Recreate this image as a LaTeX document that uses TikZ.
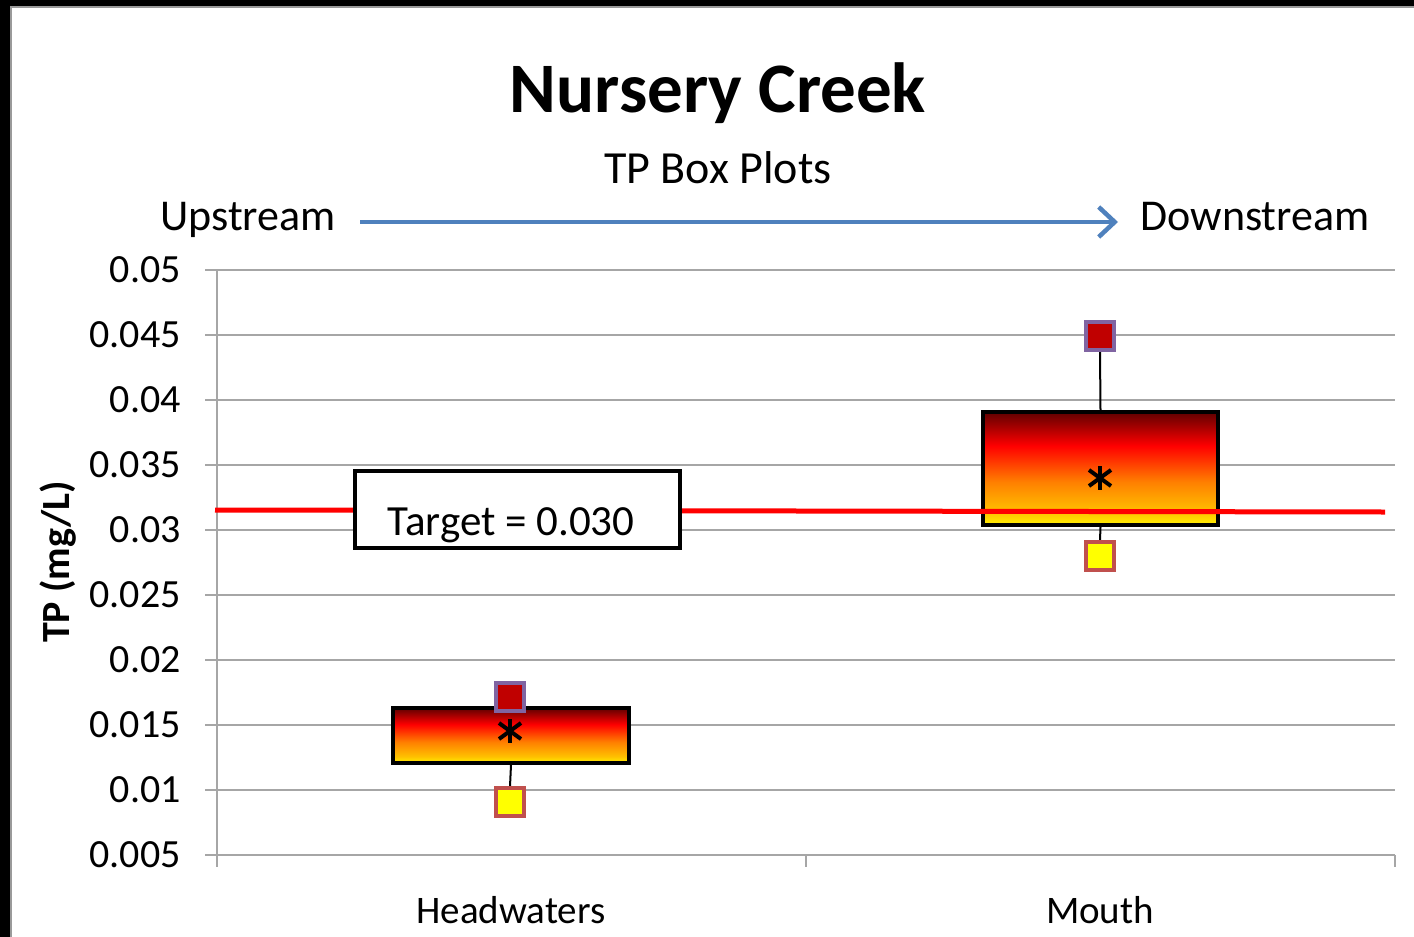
\documentclass[tikz,border=0pt]{standalone}
\usepackage{fontspec}
\setmainfont{Carlito}
\usetikzlibrary{arrows.meta}
\definecolor{arrowblue}{HTML}{4F81BD}
\definecolor{maxfill}{HTML}{C00000}
\definecolor{maxedge}{HTML}{8064A2}
\definecolor{minfill}{HTML}{FFFF00}
\definecolor{minedge}{HTML}{C0504D}
\definecolor{gridgray}{HTML}{A6A6A6}
\definecolor{frameedge}{HTML}{9A9A9A}
\definecolor{gY}{HTML}{FFF000}
\definecolor{gG}{HTML}{FFC000}
\definecolor{gO}{HTML}{FF8000}
\definecolor{gR}{HTML}{FF0000}
\definecolor{gD}{HTML}{600000}
\pgfdeclareverticalshading{boxgrad}{100bp}{color(0bp)=(gY); color(25bp)=(gY); color(31bp)=(gG); color(44bp)=(gO); color(60bp)=(gR); color(75bp)=(gD); color(100bp)=(gD)}
\tikzset{
  gridline/.style={gridgray, line width=1.8},
  ticklabel/.style={anchor=east, inner sep=0pt, font=\fontsize{40}{40}\selectfont},
  catlabel/.style={anchor=base, inner sep=0pt, font=\fontsize{39}{39}\selectfont},
  boxplot/.style={draw=black, line width=4, shading=boxgrad, inner sep=0pt},
  maxmark/.style={draw=maxedge, fill=maxfill, line width=3.5, minimum size=28, inner sep=0pt},
  minmark/.style={draw=minedge, fill=minfill, line width=3.5, minimum size=28, inner sep=0pt},
  whisker/.style={black, line width=2},
  meanstar/.style={black, line width=4},
  targetline/.style={red, line width=5},
}
\begin{document}
\begin{tikzpicture}[x=1pt,y=-1pt]
\useasboundingbox (0,0) rectangle (1414,937);
% frame
\fill[black] (0,0) rectangle (1414,937);
\fill[white] (10,6) rectangle (1414,937);
\draw[frameedge, line width=2] (11,937) -- (11,7) -- (1414,7);
% titles
\node[anchor=base, inner sep=0pt, font=\bfseries\fontsize{71}{71}\selectfont] (title) at (718,112) {Nursery Creek};
\node[anchor=base, inner sep=0pt, font=\fontsize{46}{46}\selectfont] (subtitle) at (718,183) {TP Box Plots};
\node[anchor=base, inner sep=0pt, font=\fontsize{44}{44}\selectfont] (up) at (248,230) {Upstream};
\node[anchor=base, inner sep=0pt, font=\fontsize{44}{44}\selectfont] (down) at (1255,230) {Downstream};
\coordinate (arrs) at (360,222);
\coordinate (arre) at (1118,222);
\draw[arrowblue, line width=4.5, -{Straight Barb[length=16pt, width=30pt, line width=4.5pt]}] (arrs) -- (arre);
% grid and ticks
\foreach \i/\lab in {0/0.05,1/0.045,2/0.04,3/0.035,4/0.03,5/0.025,6/0.02,7/0.015,8/0.01,9/0.005}{
  \draw[gridline] (205,270+65*\i) -- (1395,270+65*\i);
  \node[ticklabel] at (181,270+65*\i) {\lab};
}
\draw[gridline] (217,270) -- (217,867);
\draw[gridline] (806,855) -- (806,867);
\draw[gridline] (1395,855) -- (1395,867);
% axis titles
\node[rotate=90, inner sep=0pt, font=\bfseries\fontsize{40}{40}\selectfont] (ytitle) at (58,562) {TP (mg/L)};
\node[catlabel] (hwlab) at (511,923) {Headwaters};
\node[catlabel] (mlab) at (1100,923) {Mouth};
% markers (placed first for whisker anchors)
\node[maxmark] (hwmax) at (510,697) {};
\node[minmark] (hwmin) at (510,802) {};
\node[maxmark] (mmax) at (1100,336) {};
\node[minmark] (mmin) at (1100,556) {};
% boxes
\node[boxplot, minimum width=236, minimum height=55] (hwbox) at (511,735.5) {};
\node[boxplot, minimum width=235, minimum height=113] (mbox) at (1100.5,468.5) {};
% whiskers
\draw[whisker] (hwbox.south) -- (hwmin.north);
\draw[whisker] (mbox.north) -- (mmax.south);
\draw[whisker] (mbox.south) -- (mmin.north);
% redraw markers on top
\node[maxmark] at (hwmax) {};
\node[minmark] at (hwmin) {};
\node[maxmark] at (mmax) {};
\node[minmark] at (mmin) {};
% means
\coordinate (hwmean) at (510,731);
\coordinate (mmean) at (1100,478);
\foreach \c in {hwmean,mmean}{
  \draw[meanstar] (\c) ++(0,-12) -- ++(0,24);
  \draw[meanstar] (\c) ++(-11,-8) -- ++(22,16);
  \draw[meanstar] (\c) ++(-11,8) -- ++(22,-16);
}
% target line
\coordinate (tl) at (215,510);
\coordinate (tm) at (800,511);
\coordinate (tr) at (1385,512);
\draw[targetline] (tl) -- (tm) -- (tr);
\node[draw=black, fill=white, line width=3.5, minimum width=325, minimum height=77, inner sep=0pt] (tbox) at (517.5,509.5) {};
\node[anchor=base, inner sep=0pt, font=\fontsize{43}{43}\selectfont] (tlabel) at (511,535) {Target = 0.030};
\end{tikzpicture}
\end{document}
